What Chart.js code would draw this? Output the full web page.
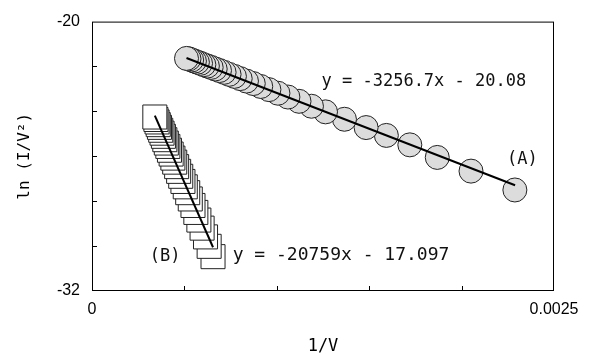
<!DOCTYPE html>
<html>
<head>
<meta charset="utf-8">
<script src="https://cdn.jsdelivr.net/npm/chart.js@4.4.0/dist/chart.umd.min.js"></script>
<style>
  body { margin: 0; background: #fff; }
  #wrap { width: 597px; height: 354px; }
</style>
</head>
<body>
<div id="wrap"><canvas id="chart" width="597" height="354"></canvas></div>
<script>
// Series A (circles) - listed from right to left so the leftmost marker ends up on top
const xA = [0.0022883, 0.0020509, 0.0018683, 0.0017198, 0.0015929, 0.0014833, 0.0013661, 0.0012636,
  0.0011876, 0.0011202, 0.0010601, 0.0010061, 0.0009573, 0.0009131, 0.0008727, 0.0008358,
  0.0008019, 0.0007706, 0.0007417, 0.0007148, 0.0006898, 0.0006666, 0.0006448, 0.0006244,
  0.0006053, 0.0005873, 0.0005703, 0.0005543, 0.0005392, 0.0005249, 0.0005113];
const yA = [-27.50, -26.66, -26.05, -25.49, -25.07, -24.72, -24.35, -24.02,
  -23.77, -23.55, -23.36, -23.19, -23.03, -22.89, -22.76, -22.65,
  -22.54, -22.44, -22.35, -22.26, -22.18, -22.11, -22.04, -21.98,
  -21.92, -21.86, -21.81, -21.76, -21.71, -21.66, -21.64];

// Series B (squares), same ordering
const xB = [0.00065488, 0.00063391, 0.00061425, 0.00059577, 0.00057837, 0.00056196, 0.00054645,
  0.00053177, 0.00051787, 0.00050467, 0.00049213, 0.00048019, 0.00046882, 0.00045798,
  0.00044763, 0.00043773, 0.00042827, 0.00041920, 0.00041051, 0.00040217, 0.00039417,
  0.00038647, 0.00037908, 0.00037195, 0.00036510, 0.00035849, 0.00035211, 0.00034596, 0.00034002];
const yB = [-30.47, -30.01, -29.59, -29.20, -28.84, -28.50, -28.19,
  -27.90, -27.62, -27.36, -27.12, -26.89, -26.67, -26.46,
  -26.26, -26.08, -25.90, -25.73, -25.56, -25.41, -25.26,
  -25.11, -24.97, -24.84, -24.71, -24.59, -24.47, -24.36, -24.25];

// Trendline end points
const fitAx = [0.0005113, 0.0022894];
const fitAy = [-21.62, -27.29];
const fitBx = [0.00034002, 0.00065488];
const fitBy = [-24.19, -30.05];

const xTickLabels = ['0', '', '', '', '', '0.0025'];
const yTickLabels = ['-32', '', '', '', '', '', '-20'];

const toPoints = (xs, ys) => xs.map((v, i) => ({ x: v, y: ys[i] }));

// text placed inside the plot (data coordinates)
const notes = [
  { text: 'y = -3256.7x - 20.08', x: 0.001242, y: -22.87, size: 17 },
  { text: '(A)', x: 0.002246, y: -26.35, size: 17 },
  { text: '(B)', x: 0.000313, y: -30.68, size: 17 },
  { text: 'y = -20759x - 17.097', x: 0.000761, y: -30.63, size: 18 }
];

const frame = {
  id: 'frame',
  afterDraw(chart) {
    const { ctx, chartArea: a, scales: { x, y } } = chart;
    ctx.save();
    ctx.strokeStyle = '#000';
    ctx.lineWidth = 1;
    ctx.strokeRect(a.left + 0.5, a.top + 0.5, a.width - 1, a.height - 1);

    // inward tick marks on the left and bottom edges
    ctx.beginPath();
    x.ticks.forEach((t, i) => {
      if (i === 0 || i === x.ticks.length - 1) return;
      const px = Math.round(x.getPixelForValue(t.value)) + 0.5;
      ctx.moveTo(px, a.bottom);
      ctx.lineTo(px, a.bottom - 5);
    });
    y.ticks.forEach((t, i) => {
      if (i === 0 || i === y.ticks.length - 1) return;
      const py = Math.round(y.getPixelForValue(t.value)) + 0.5;
      ctx.moveTo(a.left, py);
      ctx.lineTo(a.left + 5, py);
    });
    ctx.stroke();

    ctx.fillStyle = '#111';
    ctx.textBaseline = 'alphabetic';
    ctx.textAlign = 'left';
    notes.forEach((n) => {
      ctx.font = n.size + 'px "DejaVu Sans Mono"';
      ctx.fillText(n.text, x.getPixelForValue(n.x), y.getPixelForValue(n.y));
    });
    ctx.restore();
  }
};

new Chart(document.getElementById('chart'), {
  type: 'scatter',
  data: {
    datasets: [
      {
        data: toPoints(fitAx, fitAy),
        showLine: true,
        borderColor: '#000',
        borderWidth: 2,
        pointRadius: 0
      },
      {
        data: toPoints(fitBx, fitBy),
        showLine: true,
        borderColor: '#000',
        borderWidth: 2,
        pointRadius: 0
      },
      {
        data: toPoints(xA, yA),
        pointStyle: 'circle',
        pointRadius: 12,
        borderWidth: 1,
        borderColor: '#222',
        backgroundColor: '#dcdcdc'
      },
      {
        data: toPoints(xB, yB),
        pointStyle: 'rect',
        pointRadius: 17,
        borderWidth: 1,
        borderColor: '#222',
        backgroundColor: '#fff'
      }
    ]
  },
  options: {
    responsive: false,
    animation: false,
    layout: { padding: { top: 19, right: 43, left: 0, bottom: 0 } },
    plugins: {
      legend: { display: false },
      tooltip: { enabled: false }
    },
    scales: {
      x: {
        type: 'linear',
        min: 0,
        max: 0.0025,
        grid: { display: false, drawTicks: false },
        border: { display: false },
        ticks: {
          stepSize: 0.0005,
          autoSkip: false,
          maxRotation: 0,
          padding: 9,
          color: '#000',
          font: { family: 'Liberation Sans', size: 16 },
          callback: (v, i) => xTickLabels[i]
        },
        title: {
          display: true,
          text: '1/V',
          color: '#000',
          font: { family: 'DejaVu Sans Mono', size: 17 },
          padding: { top: 0, bottom: -3 }
        },
        afterFit: (s) => { s.height = 63; }
      },
      y: {
        min: -32,
        max: -20,
        grid: { display: false, drawTicks: false },
        border: { display: false },
        ticks: {
          stepSize: 2,
          autoSkip: false,
          padding: 12,
          color: '#000',
          font: { family: 'Liberation Sans', size: 16 },
          callback: (v, i) => yTickLabels[i]
        },
        title: {
          display: true,
          text: 'ln (I/V²)',
          color: '#000',
          font: { family: 'DejaVu Sans Mono', size: 16 },
          padding: { top: 15, bottom: 0 }
        },
        afterFit: (s) => { s.width = 92; }
      }
    }
  },
  plugins: [frame]
});
</script>
</body>
</html>
